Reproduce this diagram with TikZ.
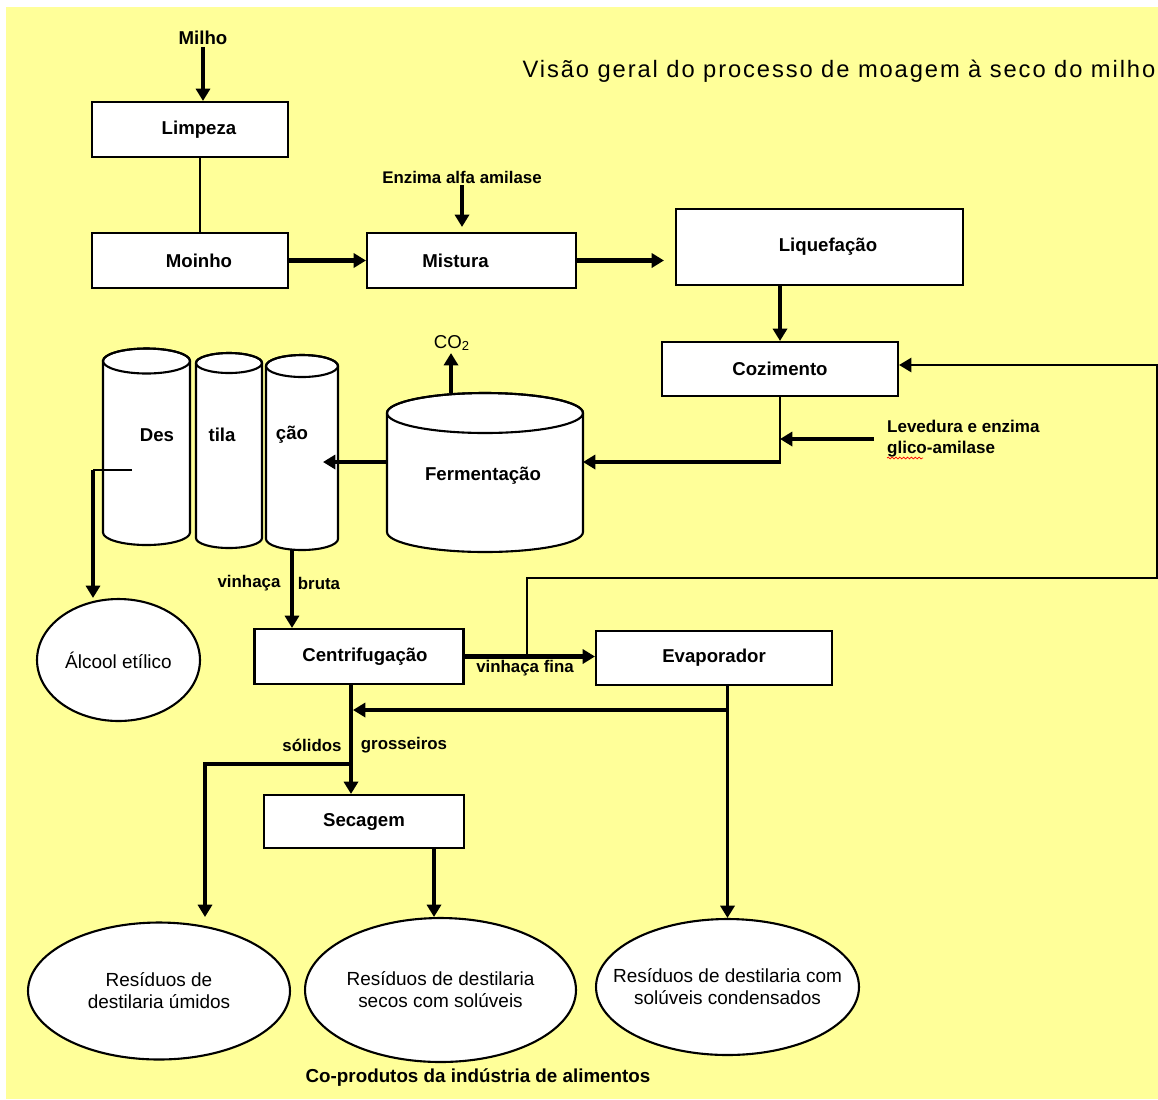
\documentclass[tikz,border=0pt]{standalone}
\usepackage{fontspec}
\setmainfont{Liberation Sans}
\usetikzlibrary{arrows.meta, shapes.geometric, decorations.pathmorphing}
\definecolor{fundo}{HTML}{FFFF99}

\begin{document}
\begin{tikzpicture}[x=0.02cm, y=-0.02cm,
    caixa/.style={draw, line width=1.2pt, fill=white, inner sep=0pt, font=\bfseries\fontsize{10.6}{12.7}\selectfont},
    nome/.style={inner sep=1pt, font=\bfseries\fontsize{10.6}{12.7}\selectfont},
    produto/.style={ellipse, draw, line width=1.2pt, fill=white, inner sep=0pt},
    texto/.style={align=center, font=\fontsize{10.8}{12.5}\selectfont},
    rotulo/.style={inner sep=1pt, font=\bfseries\fontsize{9.6}{11.9}\selectfont},
    fluxo/.style={line width=2.3pt, -{Triangle[length=7pt, width=8pt]}},
    linha/.style={line width=0.9pt},
    tanque/.style={line width=1.2pt, fill=white}]

        % Background
        \useasboundingbox (0,0) rectangle (1158,1099);
        \fill[fundo] (6,7) rectangle (1158,1099);

        % Title
        \node[font=\fontsize{13.5}{16}\selectfont\addfontfeatures{LetterSpace=8}] (titulo) at (839,71) {Visão geral do processo de moagem à seco do milho};

        % Preparation of the grain
        \node[nome] (milho) at (203,38) {Milho};
        \node[caixa, minimum width=3.92cm, minimum height=1.1cm] (limpeza) at (190,129.5) {\hspace*{0.36cm}Limpeza};
        \node[caixa, minimum width=3.92cm, minimum height=1.1cm] (moinho) at (190,260.5) {\hspace*{0.36cm}Moinho};
        \node[caixa, minimum width=4.18cm, minimum height=1.1cm] (mistura) at (471.5,260.5) {\hspace*{-0.64cm}Mistura};
        \node[rotulo] (enzima) at (462,177) {Enzima alfa amilase};
        \node[caixa, minimum width=5.74cm, minimum height=1.52cm] (liquefacao) at (819.5,247) {\hspace*{0.34cm}Liquefação};
        \node[caixa, minimum width=4.72cm, minimum height=1.08cm] (cozimento) at (780,369) {Cozimento};
        \node[rotulo, align=left, anchor=west, font=\bfseries\fontsize{9.7}{11.9}\selectfont] (levedura) at (885,439) {Levedura e enzima\\glico-amilase};
        \draw[red, line width=0.4pt, decorate, decoration={snake, amplitude=0.5pt, segment length=2.2pt}] (887,458) -- (923,458);

        \draw[fluxo] (milho.south) -- (milho.south |- limpeza.north);
        \draw[linha] ([xshift=0.2cm]limpeza.south) -- ([xshift=0.2cm]moinho.north);
        \draw[fluxo] (moinho.east) -- (mistura.west);
        \draw[fluxo] (enzima.south) -- ([yshift=0.1cm]enzima.south |- mistura.north);
        \draw[fluxo] (mistura.east) -- ([xshift=-0.22cm]mistura.east -| liquefacao.west);
        \draw[fluxo] (liquefacao.south -| cozimento.north) -- (cozimento.north);

        % Tanks: fermentation and distillation columns
        \foreach \cx/\rx/\ty/\by/\ry in {146.5/43.5/361/532.5/12.5, 229/33/363/538/10, 302/36/366/539/11, 485/98/413/532/20} {
            \filldraw[tanque] (\cx-\rx,\ty) -- (\cx-\rx,\by)
                arc[start angle=180, end angle=360, x radius=\rx*0.02cm, y radius=\ry*0.02cm]
                -- (\cx+\rx,\ty)
                arc[start angle=0, end angle=180, x radius=\rx*0.02cm, y radius=\ry*0.02cm] -- cycle;
            \draw[line width=1.2pt] (\cx,\ty) ellipse[x radius=\rx*0.02cm, y radius=\ry*0.02cm];
        }
        \node[nome] (des) at (157,435) {Des};
        \node[nome] (tila) at (222,435) {tila};
        \node[nome] (cao) at (292,435) {ção};
        \node[nome] (fermentacao) at (483,476) {Fermentação};
        \node[font=\fontsize{10.6}{12.7}\selectfont, inner sep=1pt] (co2) at (452,343) {CO\textsubscript{2}};

        \coordinate (fermtopo) at (451,393);
        \coordinate (fermoeste) at (387,462);
        \coordinate (fermleste) at (583,462);
        \coordinate (caoentrada) at (323,462);
        \coordinate (caobase) at (292,550);
        \coordinate (dessaida) at (132,470);
        \coordinate (desdesce) at (93,470);

        \draw[line width=1.2pt] (cozimento.south) -- (cozimento.south |- fermleste);
        \draw[fluxo] ([xshift=0.5pt]cozimento.south |- fermleste) -- (fermleste);
        \draw[fluxo, line width=2pt] ([xshift=-0.22cm]levedura.west) -- (levedura.west -| cozimento.south);
        \draw[fluxo] (fermtopo) -- (fermtopo |- co2.south);
        \draw[fluxo] (fermoeste) -- (caoentrada);

        % Ethanol
        \node[produto, minimum width=3.26cm, minimum height=2.44cm, label={[texto]center:Álcool etílico}] (alcool) at (118.5,660) {};
        \draw[linha] (dessaida) -- (desdesce);
        \draw[fluxo] (desdesce) -- (alcool.north -| desdesce);

        % Centrifuge and evaporator
        \node[caixa, minimum width=4.18cm, minimum height=1.1cm] (centrif) at (359,656.5) {\hspace*{0.24cm}Centrifugação};
        \node[caixa, minimum width=4.72cm, minimum height=1.08cm] (evaporador) at (714,658) {Evaporador};
        \node[caixa, minimum width=4cm, minimum height=1.06cm] (secagem) at (364,821.5) {Secagem};

        \draw[fluxo] (caobase) -- (caobase |- centrif.north);
        \node[rotulo] (vinhaca) at (249,583) {vinhaça};
        \node[rotulo] (bruta) at (319,583) {bruta};

        \draw[fluxo] (centrif.east) -- (centrif.east -| evaporador.west);
        \node[rotulo] (fina) at (525,668) {vinhaça fina};

        \coordinate (retorno) at (527,656.5);
        \draw[line width=1.4pt, -{Triangle[length=7pt, width=8pt]}] (retorno) |- (1157,578) |- ([yshift=0.08cm]cozimento.east);

        % Co-products
        \node[produto, minimum width=5.24cm, minimum height=2.74cm, label={[texto]center:Resíduos de\\destilaria úmidos}] (res1) at (159,991) {};
        \node[produto, minimum width=5.42cm, minimum height=2.88cm, label={[texto]center:Resíduos de destilaria\\secos com solúveis}] (res2) at (440.5,990) {};
        \node[produto, minimum width=5.26cm, minimum height=2.72cm, label={[texto]center:Resíduos de destilaria com\\solúveis condensados}] (res3) at (727.5,987) {};
        \node[font=\bfseries\fontsize{10.7}{12.8}\selectfont] (coprodutos) at (478,1078) {Co-produtos da indústria de alimentos};

        \coordinate (solidos) at (351,684);
        \coordinate (uniao) at (353,710);
        \coordinate (desvio) at (351,764);
        \coordinate (res1topo) at (205,917);
        \coordinate (secsaida) at (434,849);

        \draw[fluxo] (solidos) -- (solidos |- secagem.north);
        \node[rotulo] (solid) at (312,745) {sólidos};
        \node[rotulo] (gross) at (404,745) {grosseiros};
        \draw[fluxo, line width=2pt] (res3.north |- evaporador.south) -- (res3.north);
        \draw[fluxo, line width=2pt] (res3.north |- uniao) -- (uniao);
        \draw[fluxo, line width=2pt] (desvio) -| (res1topo);
        \draw[fluxo, line width=2pt] (secsaida) -- (secsaida |- res2.north);
    \end{tikzpicture}
\end{document}
